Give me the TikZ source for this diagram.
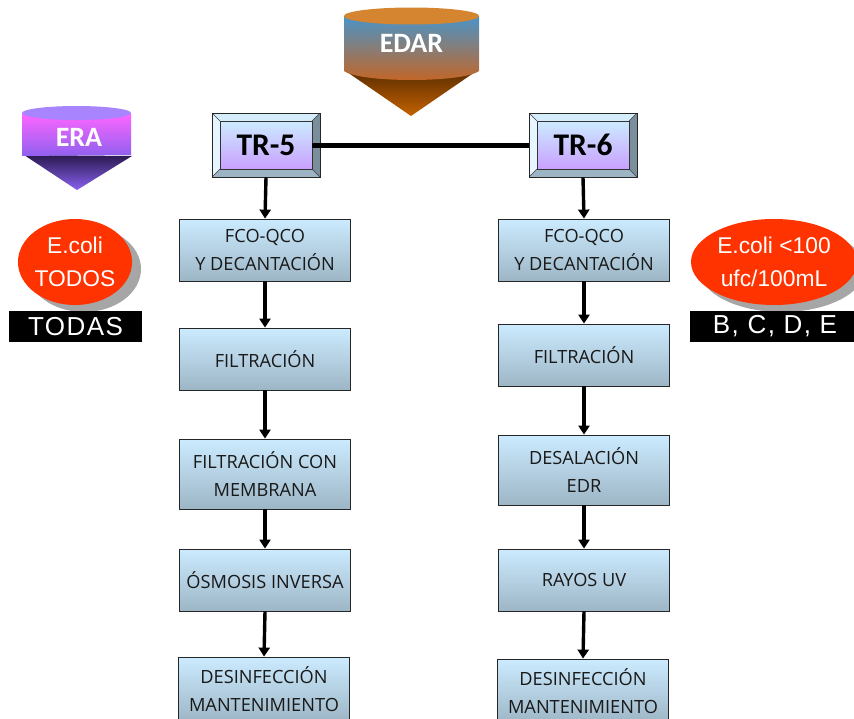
\documentclass[tikz,border=0pt]{standalone}
\usepackage{fontspec}
\setmainfont{Open Sans}
\newfontfamily\carl{Carlito}
\newfontfamily\lib{Liberation Sans}
\newfontfamily\libsp[LetterSpace=5.5]{Liberation Sans}
\usetikzlibrary{arrows.meta,shapes.geometric}
\definecolor{bxtop}{HTML}{CCEBFF}
\definecolor{bxbot}{HTML}{9DB6C6}
\definecolor{redell}{HTML}{FF3300}
\definecolor{trpurple}{HTML}{C9A0FF}
\definecolor{bevT}{HTML}{D5ECFB}
\definecolor{bevL}{HTML}{E6F5FF}
\definecolor{bevR}{HTML}{7A8E9B}
\definecolor{bevB}{HTML}{9CB4C4}
\definecolor{edarA}{HTML}{5E2E00}
\definecolor{edarB}{HTML}{C46200}
\definecolor{edarC}{HTML}{4A94C8}
\definecolor{edarD}{HTML}{C86420}
\definecolor{edarE}{HTML}{D58530}
\definecolor{eraA}{HTML}{2A1A50}
\definecolor{eraB}{HTML}{8A60F0}
\definecolor{eraC}{HTML}{FF66FF}
\definecolor{eraD}{HTML}{9060F0}
\definecolor{eraE}{HTML}{A884FF}
\tikzset{
  flowbox/.style={draw=black!85,line width=0.8pt,top color=bxtop,bottom color=bxbot,minimum width=171pt,inner sep=0pt,align=center,font=\fontsize{18.2}{28}\selectfont,text=black!90},
  trnode/.style={draw=black!80,line width=0.8pt,top color=bxtop,bottom color=trpurple,minimum width=92pt,minimum height=48pt,inner sep=0pt,font=\carl\bfseries\fontsize{31.5}{32}\selectfont},
  trouter/.style={draw=black!85,line width=1pt,minimum width=108pt,minimum height=64pt,inner sep=0pt},
  flowarrow/.style={line width=3.4pt,-{Triangle[width=11pt,length=9pt]}},
  redellipse/.style={ellipse,fill=redell,inner sep=0pt,text=white,align=center,font=\lib\fontsize{22.8}{33}\selectfont},
  shadowell/.style={ellipse,fill=black!35,inner sep=0pt},
  blackbar/.style={fill=black,inner sep=0pt,text=white,font=\libsp\fontsize{26}{26}\selectfont},
  cyllabel/.style={text=white,inner sep=0pt,font=\carl\bfseries\fontsize{28}{28}\selectfont},
}
\newcommand{\bevelbox}[4]{% name, x, y, text
  \begin{scope}[shift={(#2,#3)}]
    \fill[color=bevT] (-54,-32) -- (54,-32) -- (46,-24) -- (-46,-24) -- cycle;
    \fill[color=bevL] (-54,-32) -- (-54,32) -- (-46,24) -- (-46,-24) -- cycle;
    \fill[color=bevR] (54,-32) -- (54,32) -- (46,24) -- (46,-24) -- cycle;
    \fill[color=bevB] (-54,32) -- (54,32) -- (46,24) -- (-46,24) -- cycle;
    \draw[black!75,line width=0.6pt] (-54,-32) -- (-46,-24) (54,-32) -- (46,-24) (-54,32) -- (-46,24) (54,32) -- (46,24);
    \node[trnode] (#1in) at (0,0) {#4};
    \node[trouter] (#1) at (0,0) {};
  \end{scope}}
\begin{document}
\begin{tikzpicture}[x=1pt,y=-1pt]
\clip (0,0) rectangle (854,718);
% EDAR
\shade[top color=edarA,bottom color=edarB] (347,72) -- (475,72) -- (411,116) -- cycle;
\shade[top color=edarC,bottom color=edarD] (344,16) -- (344,71) .. controls (360,83) and (463,83) .. (479,71) -- (479,16) -- cycle;
\fill[edarE] (411.5,16) ellipse[x radius=67.5,y radius=8.5];
\node[cyllabel] (edar) at (411.5,43) {EDAR};
% ERA
\shade[top color=eraA,bottom color=eraB] (24,155) -- (132,156) -- (77,190) -- cycle;
\shade[top color=eraC,bottom color=eraD] (22,113) -- (22,156) -- (131,155) -- (131,113) -- cycle;
\fill[eraE] (76.5,113) ellipse[x radius=54.5,y radius=7];
\node[cyllabel] (era) at (79,137) {ERA};
% TR
\bevelbox{tra}{266}{145}{TR-5}
\bevelbox{trb}{583}{145}{TR-6}
% flow boxes
\node[flowbox,minimum height=62pt] (a1) at (265,250) {FCO-QCO\\Y DECANTACIÓN};
\node[flowbox,minimum height=62pt] (a2) at (265,359) {FILTRACIÓN};
\node[flowbox,minimum height=70pt] (a3) at (265,474) {FILTRACIÓN CON\\MEMBRANA};
\node[flowbox,minimum height=62pt] (a4) at (265,580) {ÓSMOSIS INVERSA};
\node[flowbox,minimum height=64pt] (a5) at (264,689) {DESINFECCIÓN\\MANTENIMIENTO};
\node[flowbox,minimum height=62pt] (b1) at (584,250) {FCO-QCO\\Y DECANTACIÓN};
\node[flowbox,minimum height=62pt] (b2) at (584,355) {FILTRACIÓN};
\node[flowbox,minimum height=70pt] (b3) at (584,470) {DESALACIÓN\\EDR};
\node[flowbox,minimum height=62pt] (b4) at (584,580) {RAYOS UV};
\node[flowbox,minimum height=64pt] (b5) at (583,691) {DESINFECCIÓN\\MANTENIMIENTO};
% connectors
\draw[line width=5pt] (train.east) -- (trb.west);
\draw[flowarrow] (tra.south) -- (a1.north);
\draw[flowarrow] (a1.south) -- (a2.north);
\draw[flowarrow] (a2.south) -- (a3.north);
\draw[flowarrow] (a3.south) -- (a4.north);
\draw[flowarrow] (a4.south) -- (a5.north);
\draw[flowarrow] (trb.south) -- (b1.north);
\draw[flowarrow] (b1.south) -- (b2.north);
\draw[flowarrow] (b2.south) -- (b3.north);
\draw[flowarrow] (b3.south) -- (b4.north);
\draw[flowarrow] (b4.south) -- (b5.north);
% left label
\node[shadowell,minimum width=114pt,minimum height=86pt] (sl) at (84,269) {};
\node[redellipse,minimum width=114pt,minimum height=86pt] (el) at (75,262) {E.coli\\TODOS};
\node[blackbar,minimum width=133pt,minimum height=31pt] (bl) at (75.5,326.5) {TODAS};
% right label
\node[shadowell,minimum width=166pt,minimum height=86pt] (sr) at (782,269) {};
\node[redellipse,minimum width=166pt,minimum height=86pt] (er) at (774,262) {E.coli <100\\ufc/100mL};
\node[blackbar,minimum width=170pt,minimum height=31pt] (br) at (775,326.5) {B, C, D, E};
\end{tikzpicture}
\end{document}
